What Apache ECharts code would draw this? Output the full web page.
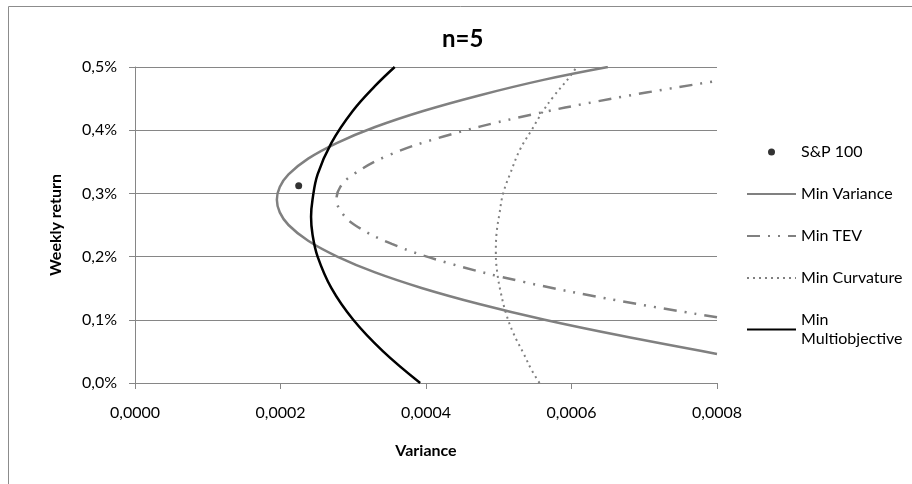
<!DOCTYPE html>
<html>
<head>
<meta charset="utf-8">
<script src="https://cdn.jsdelivr.net/npm/echarts@6/dist/echarts.min.js"></script>
<style>
  html, body { margin: 0; padding: 0; background: #fff; }
  #c_chart { width: 912px; height: 484px; }
</style>
</head>
<body>
<div id="c_chart"></div>
<script>
// tick values
const xTicks = [0, 0.0002, 0.0004, 0.0006, 0.0008]
const yTicks = [0, 0.1, 0.2, 0.3, 0.4, 0.5]

// [variance, weekly return %]
const spPoint = [[0.000225, 0.312]]
const minVariance = [
  [0.000800, 0.046], [0.000667, 0.075], [0.000563, 0.100], [0.000473, 0.125],
  [0.000395, 0.150], [0.000330, 0.175], [0.000278, 0.200], [0.000238, 0.225],
  [0.000211, 0.250], [0.000199, 0.270], [0.000195, 0.290], [0.000199, 0.310],
  [0.000211, 0.330], [0.000238, 0.355], [0.000278, 0.380], [0.000330, 0.405],
  [0.000395, 0.430], [0.000473, 0.455], [0.000563, 0.480], [0.000650, 0.500]
]
const minTev = [
  [0.000800, 0.104], [0.000666, 0.130], [0.000534, 0.160], [0.000430, 0.190],
  [0.000353, 0.220], [0.000302, 0.250], [0.000284, 0.270], [0.000277, 0.291],
  [0.000282, 0.310], [0.000300, 0.330], [0.000348, 0.360], [0.000424, 0.390],
  [0.000527, 0.420], [0.000656, 0.450], [0.000800, 0.478]
]
const minCurvature = [
  [0.000556, 0.000], [0.000545, 0.021], [0.000534, 0.047], [0.000520, 0.079],
  [0.000510, 0.110], [0.000503, 0.142], [0.000498, 0.174], [0.000496, 0.205],
  [0.000497, 0.237], [0.000501, 0.268], [0.000506, 0.300], [0.000516, 0.332],
  [0.000529, 0.369], [0.000545, 0.400], [0.000559, 0.427], [0.000575, 0.453],
  [0.000598, 0.485], [0.000607, 0.500]
]
const minMulti = [
  [0.000392, 0.000], [0.000341, 0.050], [0.000300, 0.100], [0.000270, 0.150],
  [0.000251, 0.200], [0.000244, 0.235], [0.000242, 0.263], [0.000244, 0.290],
  [0.000251, 0.330], [0.000270, 0.380], [0.000299, 0.430], [0.000330, 0.470],
  [0.000357, 0.500]
]

const FONT = 'Lato'
const GRAY = '#868686'
const LINE_GRAY = '#808080'
const HIDE_SYMBOL = { opacity: 0 }

const chart = echarts.init(document.getElementById('c_chart'))
const option = {
  animation: false,
  textStyle: { fontFamily: FONT },
  title: {
    text: 'n=5',
    left: 442,
    top: 27,
    padding: 0,
    textStyle: { fontFamily: FONT, fontSize: 24, fontWeight: 'bold', color: '#000' }
  },
  graphic: [{
    type: 'rect',
    shape: { x: 8.5, y: 6.5, width: 1000, height: 1000 },
    style: { fill: 'none', stroke: '#8c8c8c', lineWidth: 1 },
    silent: true,
    z: -1
  }],
  grid: { left: 135, right: 195, top: 67, bottom: 101 },
  legend: [{
    orient: 'vertical',
    left: 741,
    top: 138,
    itemWidth: 49,
    itemHeight: 7,
    itemGap: 24,
    data: [
      { name: 'S&P 100' },
      { name: 'Min Variance', itemStyle: HIDE_SYMBOL },
      { name: 'Min TEV', itemStyle: HIDE_SYMBOL },
      { name: 'Min Curvature', itemStyle: HIDE_SYMBOL }
    ],
    textStyle: { fontFamily: FONT, fontSize: 16, color: '#000', lineHeight: 18 }
  }, {
    orient: 'vertical',
    left: 741,
    top: 296,
    itemWidth: 49,
    itemHeight: 7,
    data: [{ name: 'Min Multiobjective', itemStyle: HIDE_SYMBOL }],
    formatter: function () { return 'Min\nMultiobjective' },
    textStyle: { fontFamily: FONT, fontSize: 16, color: '#000', lineHeight: 19, padding: [19, 0, 0, 0] }
  }],
  xAxis: {
    type: 'value',
    min: xTicks[0],
    max: xTicks[xTicks.length - 1],
    interval: 0.0002,
    name: 'Variance',
    nameLocation: 'middle',
    nameGap: 60,
    nameTextStyle: { fontFamily: FONT, fontSize: 16, fontWeight: 'bold', color: '#000' },
    axisLine: { show: true, lineStyle: { color: GRAY, width: 1 } },
    axisTick: { show: true, length: 6, lineStyle: { color: GRAY } },
    splitLine: { show: false },
    axisLabel: {
      margin: 22,
      fontFamily: FONT,
      fontSize: 16,
      color: '#000',
      formatter: function (v) { return v.toFixed(4).replace('.', ',') }
    }
  },
  yAxis: {
    type: 'value',
    min: yTicks[0],
    max: yTicks[yTicks.length - 1],
    interval: 0.1,
    name: 'Weekly return',
    nameLocation: 'middle',
    nameGap: 71,
    nameTextStyle: { fontFamily: FONT, fontSize: 16, fontWeight: 'bold', color: '#000' },
    axisLine: { show: true, lineStyle: { color: GRAY, width: 1 } },
    axisTick: { show: true, length: 6, lineStyle: { color: GRAY } },
    splitLine: { show: true, lineStyle: { color: GRAY, width: 1 } },
    axisLabel: {
      margin: 18,
      fontFamily: FONT,
      fontSize: 16,
      color: '#000',
      formatter: function (v) { return v.toFixed(1).replace('.', ',') + '%' }
    }
  },
  series: [{
    name: 'Min Variance',
    type: 'line',
    data: minVariance,
    smooth: 0.4,
    symbol: 'none',
    lineStyle: { color: LINE_GRAY, width: 2.5 },
    itemStyle: { color: LINE_GRAY }
  }, {
    name: 'Min TEV',
    type: 'line',
    data: minTev,
    smooth: 0.4,
    symbol: 'none',
    lineStyle: { color: LINE_GRAY, width: 2.5, type: [13, 8, 2, 8, 2, 8], cap: 'butt' },
    itemStyle: { color: LINE_GRAY }
  }, {
    name: 'Min Curvature',
    type: 'line',
    data: minCurvature,
    smooth: 0.4,
    symbol: 'none',
    lineStyle: { color: LINE_GRAY, width: 2, type: [2, 4], cap: 'butt' },
    itemStyle: { color: LINE_GRAY }
  }, {
    name: 'Min Multiobjective',
    type: 'line',
    data: minMulti,
    smooth: 0.4,
    symbol: 'none',
    lineStyle: { color: '#000', width: 2.5 },
    itemStyle: { color: '#000' }
  }, {
    name: 'S&P 100',
    type: 'scatter',
    data: spPoint,
    symbol: 'circle',
    symbolSize: 7,
    itemStyle: { color: '#000' },
    z: 5
  }]
}
chart.setOption(option, true)
window.addEventListener('resize', function () {
  chart.resize()
})
</script>
</body>
</html>
